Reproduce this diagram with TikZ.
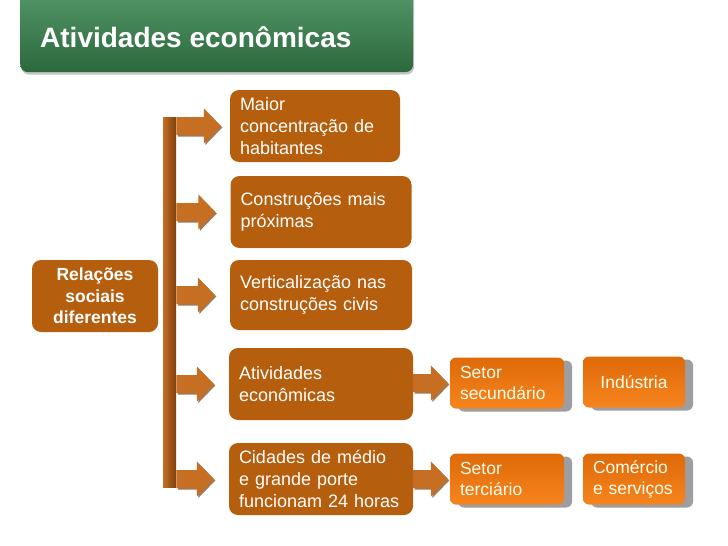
\documentclass[tikz,border=0pt]{standalone}
\usepackage{fontspec}
\setmainfont{Liberation Sans}
\usetikzlibrary{shadows}

\definecolor{boxbrown}{RGB}{180,94,14}
\definecolor{arrowfill}{RGB}{198,110,34}
\definecolor{arrowdark}{RGB}{122,64,14}
\definecolor{setortop}{RGB}{222,106,8}
\definecolor{setorbot}{RGB}{246,132,30}
\definecolor{setorshade}{RGB}{158,158,162}
\definecolor{titletop}{RGB}{84,152,106}
\definecolor{titlebot}{RGB}{44,104,60}

\begin{document}
\begin{tikzpicture}[
        x=1pt, y=-1pt,
        titlebox/.style={anchor=north west,rounded corners=8pt,top color=titletop,bottom color=titlebot,
            drop shadow={shadow xshift=1pt,shadow yshift=-2.5pt,fill=black!50,opacity=0.45}},
        titletext/.style={anchor=base west,text=white,inner sep=0pt,font=\fontsize{28}{32}\selectfont\bfseries},
        leftbox/.style={fill=boxbrown,rounded corners=9pt,text=white,align=center,inner sep=0pt,
            minimum width=126pt,minimum height=72pt,font=\fontsize{17.5}{21.5}\selectfont\bfseries},
        midbox/.style={fill=boxbrown,rounded corners=9pt,text=white,align=left,text width=#1,
            inner xsep=10pt,inner ysep=0pt,minimum height=72pt,font=\fontsize{18}{22}\selectfont},
        setorbox/.style={rounded corners=6pt,top color=setortop,bottom color=setorbot,text=white!92!yellow,
            align=left,text width=#1,inner xsep=10pt,inner ysep=0pt,minimum height=51pt,
            font=\fontsize{17.5}{21}\selectfont,
            general shadow={fill=setorshade,shadow xshift=8pt,shadow yshift=-3pt}},
        barstyle/.style={anchor=north west,inner sep=0pt,minimum width=13pt,minimum height=370pt,
            left color=arrowfill,middle color=arrowfill,right color=arrowdark},
        blockarrow/.style={fill=arrowfill,
            drop shadow={shadow xshift=1.5pt,shadow yshift=-1.5pt,fill=arrowdark,opacity=0.7}}
    ]
        \fill[white] (0,0) rectangle (728,546);
        \useasboundingbox (0,0) rectangle (728,546);

        % title
        \node[titlebox,minimum width=393pt,minimum height=84pt] (title) at (20,-12) {};
        \node[titletext] (titletxt) at (40,47) {Atividades econômicas};

        % left box and bracket
        \node[leftbox] (rel) at (95,296) {Relações\\sociais\\diferentes};
        \node[barstyle] (bar) at (163,117) {};

        % middle column
        \node[midbox=150pt] (m1) at (315,126) {Maior\\concentração de\\habitantes};
        \node[midbox=161pt] (m2) at (321,212) {Construções mais\\próximas};
        \node[midbox=162pt,minimum height=70pt] (m3) at (321,295) {Verticalização nas\\construções civis};
        \node[midbox=164pt] (m4) at (321,384) {Atividades\\econômicas};
        \node[midbox=164pt] (m5) at (321,479) {Cidades de médio\\e grande porte\\funcionam 24 horas};

        % right column
        \node[setorbox=94pt] (s1) at (507,383) {Setor\\secundário};
        \node[setorbox=82pt,align=center] (ind) at (634,382) {Indústria};
        \node[setorbox=94pt] (s2) at (507,479) {Setor\\terciário};
        \node[setorbox=82pt] (com) at (634,479) {Comércio\\e serviços};

        % block arrows
        \foreach \a/\b/\g in {bar/m1/9pt,bar/m2/15pt,bar/m3/15pt,bar/m4/15pt,bar/m5/15pt,m4/s1/2pt,m5/s2/2pt} {
            \coordinate (from) at (\a.east |- \b.west);
            \coordinate (tip) at ([xshift=-\g]\b.west);
            \fill[blockarrow] ([shift={(0,-9)}]from) -- ([shift={(-17,-9)}]tip) -- ([shift={(-17,-17.5)}]tip)
                -- (tip) -- ([shift={(-17,17.5)}]tip) -- ([shift={(-17,9)}]tip) -- ([shift={(0,9)}]from) -- cycle;
        }
    \end{tikzpicture}
\end{document}
